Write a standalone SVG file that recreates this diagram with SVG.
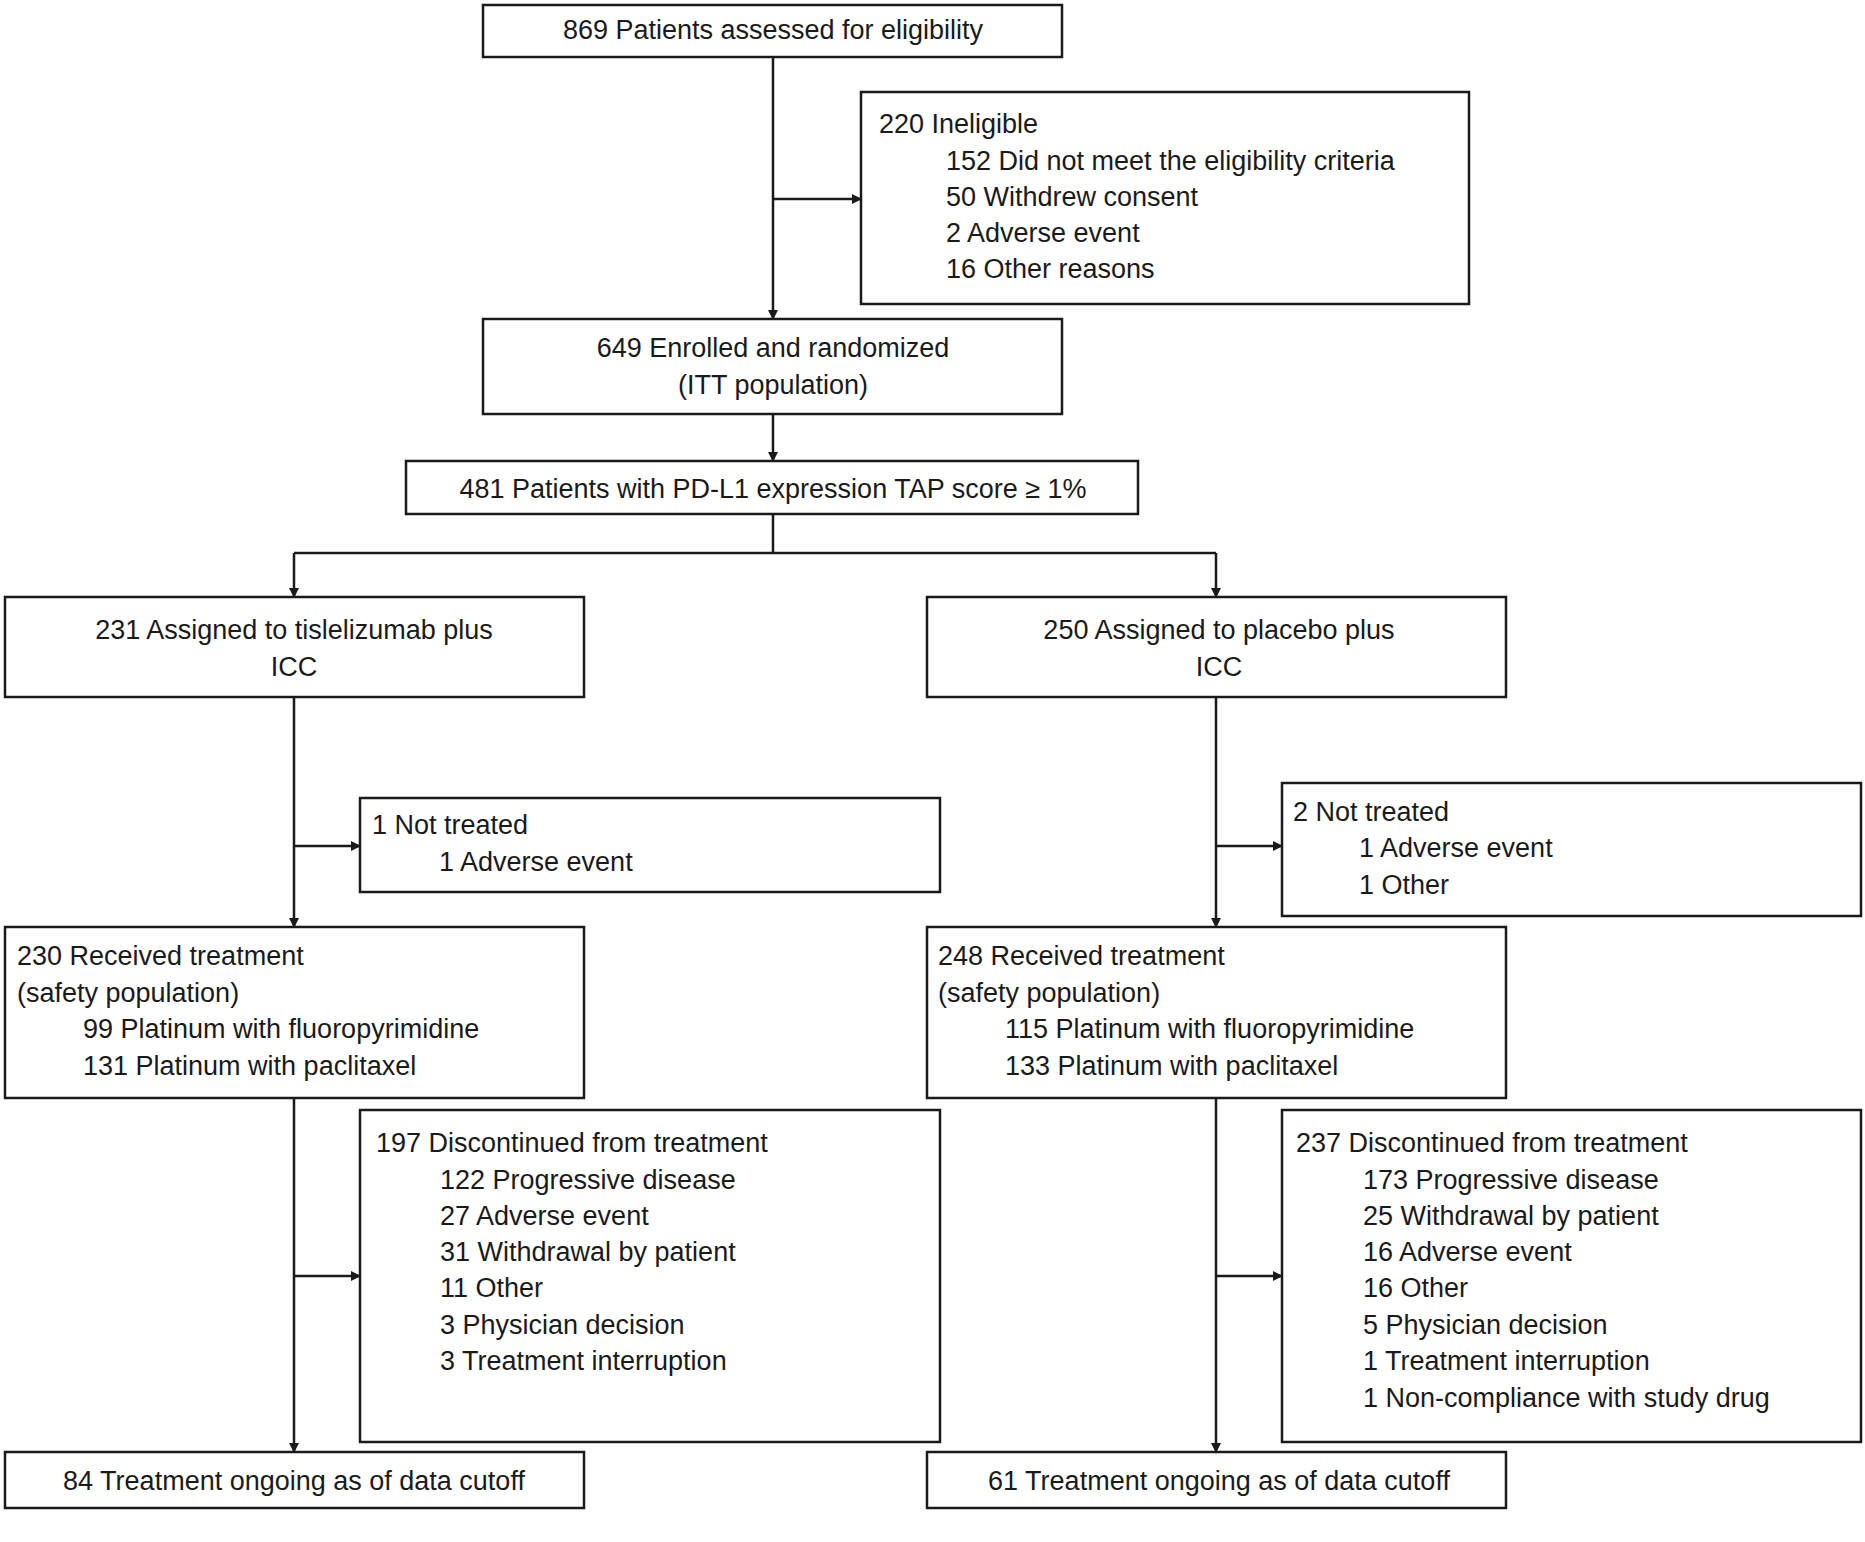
<svg xmlns="http://www.w3.org/2000/svg" width="1865" height="1542" viewBox="0 0 1865 1542">
<style>
rect{fill:#fff;stroke:#1a1a1a;stroke-width:2.5}
text{font-family:"Liberation Sans",Arial,sans-serif;font-size:27px;fill:#1a1a1a}
.c{text-anchor:middle}
#connectors path{fill:none;stroke:#1a1a1a;stroke-width:2.5}
</style>
<defs><marker id="a" markerWidth="10" markerHeight="10" refX="9" refY="5" orient="auto" markerUnits="userSpaceOnUse" viewBox="0 0 10 10"><path d="M0,0 L10,5 L0,10 z" fill="#1a1a1a"/></marker></defs>
<rect width="1865" height="1542" style="stroke:none"/>
<g id="connectors">
<path d="M773,57 V319" marker-end="url(#a)" style="marker-end:url(#a)"/>
<path d="M773,199 H861" marker-end="url(#a)"/>
<path d="M773,414 V461" marker-end="url(#a)"/>
<path d="M773,514 V553 M294,553 H1216"/>
<path d="M294,553 V597" marker-end="url(#a)"/>
<path d="M1216,553 V597" marker-end="url(#a)"/>
<path d="M294,697 V927" marker-end="url(#a)"/>
<path d="M294,846 H360" marker-end="url(#a)"/>
<path d="M1216,697 V927" marker-end="url(#a)"/>
<path d="M1216,846 H1282" marker-end="url(#a)"/>
<path d="M294,1098 V1452" marker-end="url(#a)"/>
<path d="M294,1276 H360" marker-end="url(#a)"/>
<path d="M1216,1098 V1452" marker-end="url(#a)"/>
<path d="M1216,1276 H1282" marker-end="url(#a)"/>
</g>
<g id="n1"><rect x="483" y="5" width="579" height="52"/><text class="c" x="773" y="39">869 Patients assessed for eligibility</text></g>
<g id="n2"><rect x="861" y="92" width="608" height="212"/>
<text x="879" y="133">220 Ineligible</text>
<text x="946" y="170">152 Did not meet the eligibility criteria</text>
<text x="946" y="206">50 Withdrew consent</text>
<text x="946" y="242">2 Adverse event</text>
<text x="946" y="278">16 Other reasons</text></g>
<g id="n3"><rect x="483" y="319" width="579" height="95"/><text class="c" x="773" y="357">649 Enrolled and randomized</text><text class="c" x="773" y="394">(ITT population)</text></g>
<g id="n4"><rect x="406" y="461" width="732" height="53"/><text class="c" x="773" y="498">481 Patients with PD-L1 expression TAP score ≥ 1%</text></g>
<g id="n5"><rect x="5" y="597" width="579" height="100"/><text class="c" x="294" y="639">231 Assigned to tislelizumab plus</text><text class="c" x="294" y="676">ICC</text></g>
<g id="n6"><rect x="927" y="597" width="579" height="100"/><text class="c" x="1219" y="639">250 Assigned to placebo plus</text><text class="c" x="1219" y="676">ICC</text></g>
<g id="n7"><rect x="360" y="798" width="580" height="94"/><text x="372" y="834">1 Not treated</text><text x="439" y="871">1 Adverse event</text></g>
<g id="n8"><rect x="1282" y="783" width="579" height="133"/><text x="1293" y="821">2 Not treated</text><text x="1359" y="857">1 Adverse event</text><text x="1359" y="894">1 Other</text></g>
<g id="n9"><rect x="5" y="927" width="579" height="171"/>
<text x="17" y="965">230 Received treatment</text><text x="17" y="1002">(safety population)</text>
<text x="83" y="1038">99 Platinum with fluoropyrimidine</text><text x="83" y="1075">131 Platinum with paclitaxel</text></g>
<g id="n10"><rect x="927" y="927" width="579" height="171"/>
<text x="938" y="965">248 Received treatment</text><text x="938" y="1002">(safety population)</text>
<text x="1005" y="1038">115 Platinum with fluoropyrimidine</text><text x="1005" y="1075">133 Platinum with paclitaxel</text></g>
<g id="n11"><rect x="360" y="1110" width="580" height="332"/>
<text x="376" y="1152">197 Discontinued from treatment</text>
<text x="440" y="1189">122 Progressive disease</text>
<text x="440" y="1225">27 Adverse event</text>
<text x="440" y="1261">31 Withdrawal by patient</text>
<text x="440" y="1297">11 Other</text>
<text x="440" y="1334">3 Physician decision</text>
<text x="440" y="1370">3 Treatment interruption</text></g>
<g id="n12"><rect x="1282" y="1110" width="579" height="332"/>
<text x="1296" y="1152">237 Discontinued from treatment</text>
<text x="1363" y="1189">173 Progressive disease</text>
<text x="1363" y="1225">25 Withdrawal by patient</text>
<text x="1363" y="1261">16 Adverse event</text>
<text x="1363" y="1297">16 Other</text>
<text x="1363" y="1334">5 Physician decision</text>
<text x="1363" y="1370">1 Treatment interruption</text>
<text x="1363" y="1407">1 Non-compliance with study drug</text></g>
<g id="n13"><rect x="5" y="1452" width="579" height="56"/><text class="c" x="294" y="1490">84 Treatment ongoing as of data cutoff</text></g>
<g id="n14"><rect x="927" y="1452" width="579" height="56"/><text class="c" x="1219" y="1490">61 Treatment ongoing as of data cutoff</text></g>
</svg>
